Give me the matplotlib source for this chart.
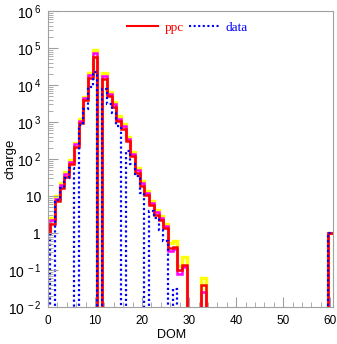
import matplotlib
matplotlib.use('Agg')
import matplotlib.pyplot as plt
import numpy as np
from matplotlib.lines import Line2D
from matplotlib.ticker import FixedLocator, FuncFormatter, LogLocator, MultipleLocator, NullFormatter

plt.rcParams['font.family'] = 'Liberation Sans'

# charge per DOM (DOM 0..33), 0 = empty bin
ppc = [1, 1.8, 7.5, 17, 33, 73, 215, 920, 3900, 16000, 56000, 0, 15000, 5000,
       2600, 1100, 670, 300, 120, 43, 19, 10.5, 5.7, 3.1, 2.2, 1.35, 0.4, 0.43,
       0.1, 0.14, 0, 0, 0, 0.04]
ppc_hi = [1, 2.6, 10, 23, 46, 95, 280, 1200, 4900, 21000, 89000, 0, 21000, 6500,
          3400, 1500, 900, 400, 160, 58, 26, 14, 7.5, 4.2, 2.9, 1.8, 0.55, 0.6,
          0.13, 0.22, 0, 0, 0, 0.06]
ppc_mid = [1, 2.2, 8.5, 20, 40, 84, 250, 1050, 4400, 19000, 76000, 0, 18000, 5800,
           3000, 1250, 760, 350, 135, 50, 22, 12, 6.5, 3.6, 2.5, 1.55, 0.33, 0.38,
           0.08, 0.12, 0, 0, 0, 0.026]
data = [1, 0, 8, 16, 30, 57, 0, 850, 2200, 9000, 23000, 0, 8000, 3000,
        1800, 800, 0, 170, 75, 35, 12, 0, 4, 2.5, 1.2, 0.6, 0, 0.03,
        0, 0, 0, 0, 0, 0]
# last DOM on the string
last_dom = 60
last_charge = {'ppc': 1, 'ppc_hi': 1, 'ppc_mid': 1, 'data': 1}

edges = np.arange(-0.5, last_dom + 1.5, 1)


def full(vals, key):
    h = np.zeros(last_dom + 1)
    h[:len(vals)] = vals
    h[last_dom] = last_charge[key]
    return h


fig = plt.figure(figsize=(3.37, 3.44), dpi=100)
ax = fig.add_axes([0.1424, 0.1076, 0.846, 0.860])
ax.set_yscale('log', nonpositive='clip')

ax.stairs(full(ppc_hi, 'ppc_hi'), edges, baseline=None, color='#ffff00', lw=2.4)
ax.stairs(full(ppc_mid, 'ppc_mid'), edges, baseline=None, color='#ff00ff', lw=1.8)
ax.stairs(full(ppc, 'ppc'), edges, baseline=None, color='#ff0000', lw=1.8)
ax.stairs(full(data, 'data'), edges, baseline=None, color='#0000ff', lw=1.6,
          linestyle=(0, (1, 1.2)))

ax.set_xlim(0, 60.6)
ax.set_ylim(1e-2, 1e6)

# ROOT-like axes
for s in ax.spines.values():
    s.set_color('#a0a0a0')
ax.xaxis.set_major_locator(MultipleLocator(10))
ax.xaxis.set_minor_locator(MultipleLocator(2))
ax.yaxis.set_major_locator(FixedLocator(10.0 ** np.arange(-2, 7)))
ax.yaxis.set_minor_locator(LogLocator(base=10, subs=np.arange(2, 10), numticks=20))
ax.yaxis.set_minor_formatter(NullFormatter())


def ylab(v, pos):
    n = int(round(np.log10(v)))
    if n == 0:
        return '1'
    if n == 1:
        return '10'
    return r'$\mathregular{10^{\,%d}}$' % n


ax.yaxis.set_major_formatter(FuncFormatter(ylab))
ax.tick_params(which='both', direction='in', color='#a0a0a0')
ax.tick_params(which='major', length=7)
ax.tick_params(which='minor', length=3.5)
ax.tick_params(axis='x', labelsize=8.5, pad=6)
ax.tick_params(axis='y', labelsize=10, pad=5)

ax.set_xlabel('DOM', fontsize=9)
ax.xaxis.set_label_coords(0.435, -0.075)
ax.set_ylabel('charge', fontsize=9.5)
ax.yaxis.set_label_coords(-0.11, 0.5)

h1 = Line2D([], [], color='#ff0000', lw=1.5)
h2 = Line2D([], [], color='#0000ff', lw=1.5, linestyle=(0, (1, 1.2)))
leg = ax.legend([h1, h2], ['ppc', 'data'], loc='upper center', bbox_to_anchor=(0.49, 1.005),
                ncol=2, frameon=False, handlelength=2.3, columnspacing=0.4,
                handletextpad=0.5, prop={'family': 'Liberation Serif', 'size': 9.5})
for t, c in zip(leg.get_texts(), ['#ff0000', '#0000ff']):
    t.set_color(c)

fig.savefig('out.png', dpi=100)
